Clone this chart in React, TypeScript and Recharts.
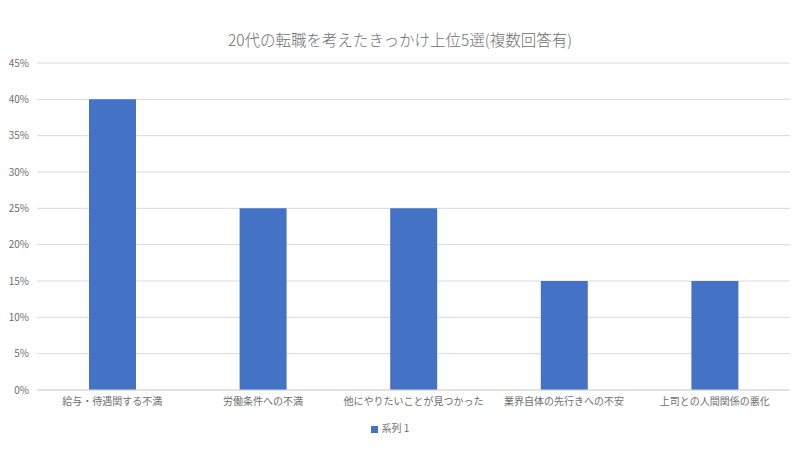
import { BarChart, Bar, XAxis, YAxis, CartesianGrid, Legend } from "recharts";

const categories = [
  "給与・待遇関する不満",
  "労働条件への不満",
  "他にやりたいことが見つかった",
  "業界自体の先行きへの不安",
  "上司との人間関係の悪化",
];
const series1 = [0.4, 0.25, 0.25, 0.15, 0.15];
const yTicks = [0, 0.05, 0.1, 0.15, 0.2, 0.25, 0.3, 0.35, 0.4, 0.45];

const data = categories.map((name, i) => ({ name, value: series1[i] }));

const font = '"Noto Sans CJK JP", "Noto Sans", sans-serif';

export default function App() {
  return (
    <div
      style={{
        position: "absolute",
        left: 0,
        top: 0,
        width: 800,
        height: 450,
        background: "#fff",
        fontFamily: font,
      }}
    >
      <div
        style={{
          position: "absolute",
          top: 28,
          left: 0,
          width: 800,
          textAlign: "center",
          fontSize: 15.5,
          fontWeight: 300,
          color: "#6e6e6e",
        }}
      >
        20代の転職を考えたきっかけ上位5選(複数回答有)
      </div>
      <BarChart
        width={800}
        height={450}
        data={data}
        margin={{ top: 63, right: 10, bottom: 15, left: 0 }}
      >
        <CartesianGrid vertical={false} stroke="#d9d9d9" />
        <XAxis
          dataKey="name"
          height={30}
          tickLine={false}
          axisLine={{ stroke: "#d9d9d9" }}
          tick={{ fontSize: 10, fill: "#6e6e6e", fontFamily: font }}
          interval={0}
        />
        <YAxis
          width={37}
          domain={[0, 0.45]}
          ticks={yTicks}
          tickFormatter={(v: number) => `${Math.round(v * 100)}%`}
          axisLine={false}
          tickLine={false}
          tick={{ fontSize: 10, fill: "#6e6e6e", fontFamily: font }}
        />
        <Legend
          verticalAlign="bottom"
          iconType="square"
          iconSize={7}
          wrapperStyle={{ position: "absolute", top: 420, fontSize: 10, color: "#6e6e6e" }}
          formatter={(v: string) => <span style={{ color: "#6e6e6e" }}>{v}</span>}
        />
        <Bar
          dataKey="value"
          name="系列 1"
          fill="#4472C4"
          barSize={47}
          isAnimationActive={false}
        />
      </BarChart>
    </div>
  );
}
